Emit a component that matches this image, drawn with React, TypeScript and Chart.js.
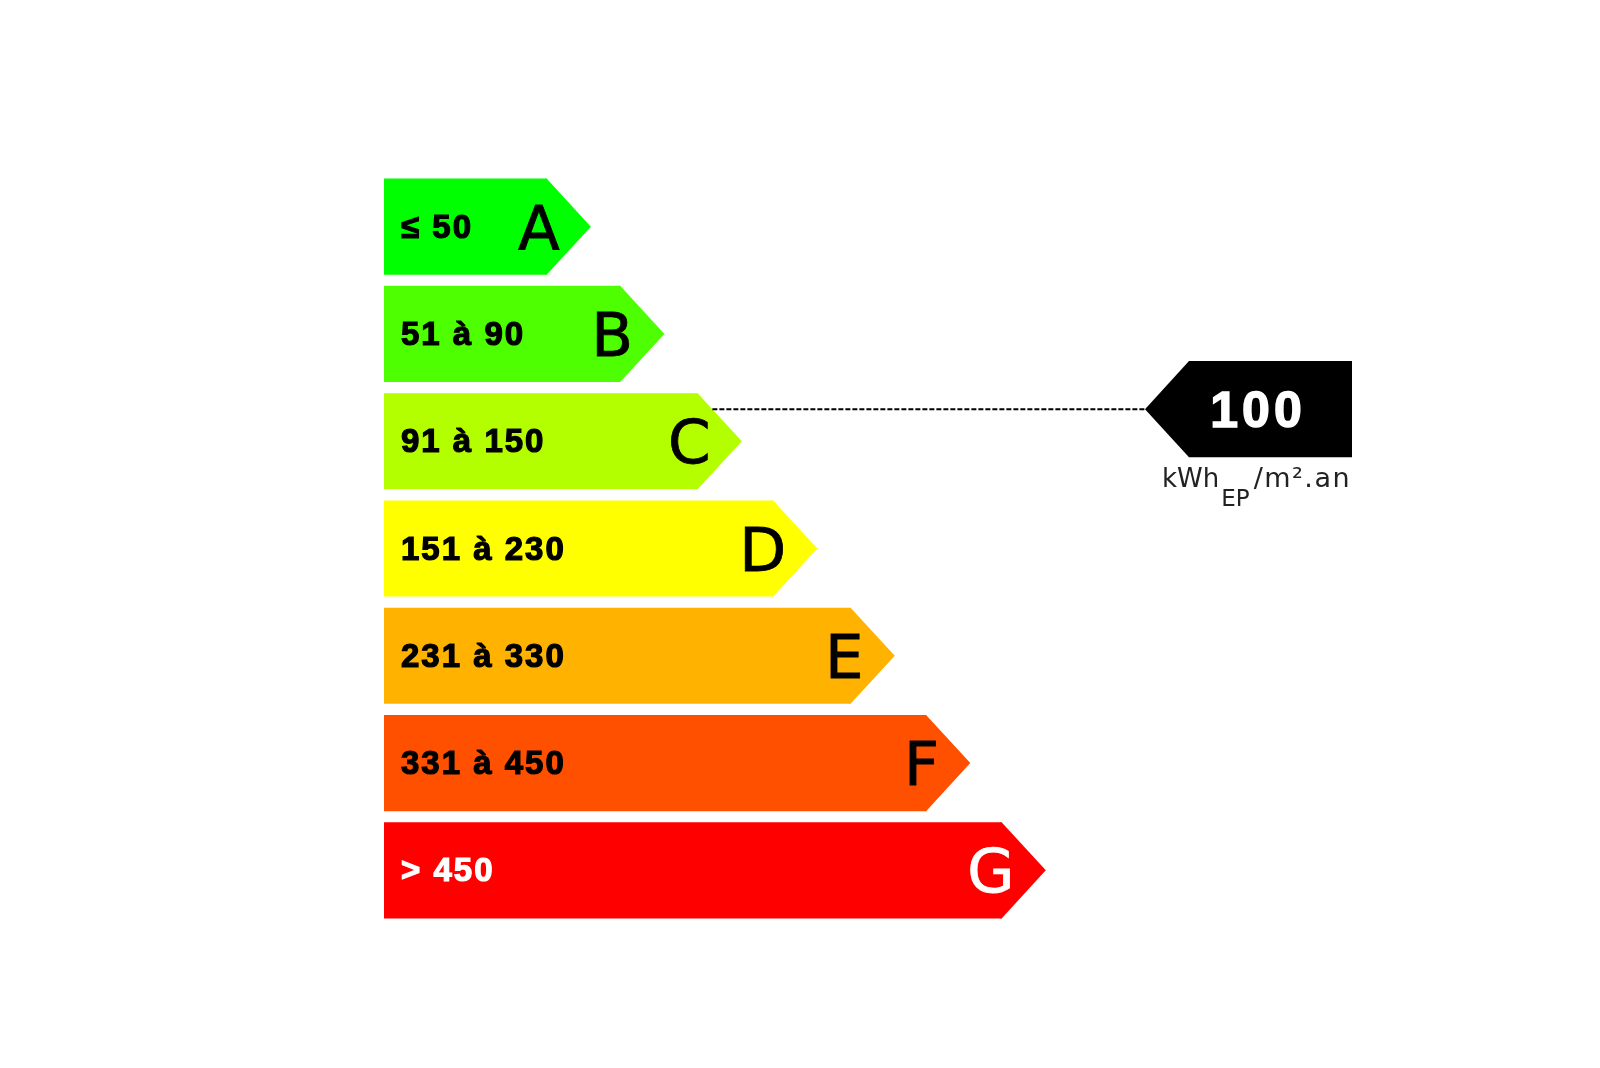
import React, { useEffect, useRef } from "react";
import { Chart, registerables } from "chart.js";

Chart.register(...registerables);

// ---- data ----
const classLetters = ["A", "B", "C", "D", "E", "F", "G"];
const rangeLabels = ["≤ 50", "51 à 90", "91 à 150", "151 à 230", "231 à 330", "331 à 450", "> 450"];
const rangeLow = [0, 50, 90, 150, 230, 330, 450];
const rangeHigh = [50, 90, 150, 230, 330, 450, 600];
// bar length, in % of the plotting width
const barLengths = [16.8, 24.4, 32.4, 40.2, 48.2, 56.0, 63.8];
const barColors = ["#00ff00", "#4dff00", "#b3ff00", "#ffff00", "#ffb300", "#ff5000", "#ff0000"];
const textColors = ["#000000", "#000000", "#000000", "#000000", "#000000", "#000000", "#ffffff"];
const consumption = 100;
const unitMain = "kWh";
const unitSub = "EP";
const unitTail = "/m².an";

const energyPlugin = {
  id: "energyLabel",
  afterDatasetsDraw(chart: any) {
    const ctx = chart.ctx as any;
    const area = chart.chartArea;
    const meta = chart.getDatasetMeta(0);
    const tipRatio = 0.46;
    let markerY = 0;
    let lineStartX = 0;
    meta.data.forEach((bar: any, i: number) => {
      const p = bar.getProps(["x", "y", "base", "height"], true);
      const h = p.height;
      const top = p.y - h / 2;
      const bottom = p.y + h / 2;
      const tip = h * tipRatio;
      ctx.save();
      ctx.fillStyle = barColors[i];
      ctx.beginPath();
      ctx.moveTo(p.x - 1, top);
      ctx.lineTo(p.x, top);
      ctx.lineTo(p.x + tip, p.y);
      ctx.lineTo(p.x, bottom);
      ctx.lineTo(p.x - 1, bottom);
      ctx.closePath();
      ctx.fill();

      // range label
      ctx.fillStyle = textColors[i];
      ctx.strokeStyle = textColors[i];
      ctx.lineWidth = 1.2;
      ctx.font = "bold 33px 'Liberation Sans', Arial, sans-serif";
      ctx.letterSpacing = "2px";
      ctx.textAlign = "left";
      ctx.textBaseline = "alphabetic";
      ctx.fillText(rangeLabels[i], p.base + 17, p.y + 11);
      ctx.strokeText(rangeLabels[i], p.base + 17, p.y + 11);
      ctx.letterSpacing = "0px";

      // class letter
      ctx.font = "61px 'DejaVu Sans', sans-serif";
      ctx.textAlign = "right";
      ctx.lineWidth = 0.8;
      ctx.fillText(classLetters[i], p.x + 13, p.y + 22);
      ctx.strokeText(classLetters[i], p.x + 13, p.y + 22);
      ctx.restore();

      if (consumption > rangeLow[i] && consumption <= rangeHigh[i]) {
        const frac = (consumption - rangeLow[i]) / (rangeHigh[i] - rangeLow[i]);
        markerY = top + frac * h;
        lineStartX = p.x + tip * ((markerY - top) / (h / 2));
      }
    });

    // marker
    const h = meta.data[0].getProps(["height"], true).height;
    const right = area.right;
    const rectLeft = right - 163;
    const tipX = rectLeft - 44;
    ctx.save();
    ctx.strokeStyle = "#000";
    ctx.lineWidth = 2;
    ctx.setLineDash([5, 2]);
    ctx.beginPath();
    ctx.moveTo(lineStartX, markerY);
    ctx.lineTo(tipX, markerY);
    ctx.stroke();
    ctx.setLineDash([]);

    ctx.fillStyle = "#000";
    ctx.beginPath();
    ctx.moveTo(tipX, markerY);
    ctx.lineTo(rectLeft, markerY - h / 2);
    ctx.lineTo(right, markerY - h / 2);
    ctx.lineTo(right, markerY + h / 2);
    ctx.lineTo(rectLeft, markerY + h / 2);
    ctx.closePath();
    ctx.fill();

    ctx.fillStyle = "#fff";
    ctx.strokeStyle = "#fff";
    ctx.lineWidth = 1.5;
    ctx.font = "bold 50px 'Liberation Sans', Arial, sans-serif";
    ctx.letterSpacing = "4px";
    ctx.textAlign = "center";
    ctx.textBaseline = "alphabetic";
    ctx.fillText(String(consumption), rectLeft + 69, markerY + 18);
    ctx.strokeText(String(consumption), rectLeft + 69, markerY + 18);
    ctx.letterSpacing = "0px";

    // unit
    ctx.beginPath();
    ctx.rect(tipX - 10, markerY + h / 2, right - tipX + 10, 80);
    ctx.clip();
    ctx.fillStyle = "#222";
    ctx.textAlign = "left";
    let ux = tipX + 17;
    const uy = markerY + 78;
    ctx.font = "26px 'DejaVu Sans', sans-serif";
    ctx.fillText(unitMain, ux, uy);
    ux += ctx.measureText(unitMain).width + 2;
    ctx.font = "23px 'DejaVu Sans', sans-serif";
    ctx.fillText(unitSub, ux, uy + 19);
    ux += ctx.measureText(unitSub).width + 4;
    ctx.font = "27px 'DejaVu Sans', sans-serif";
    ctx.letterSpacing = "1.5px";
    ctx.fillText(unitTail, ux, uy);
    ctx.letterSpacing = "0px";
    ctx.restore();
  },
};

export default function App() {
  const ref = useRef<HTMLCanvasElement>(null);
  useEffect(() => {
    if (!ref.current) return;
    const chart = new Chart(ref.current, {
      type: "bar",
      data: {
        labels: classLetters,
        datasets: [
          {
            data: barLengths,
            backgroundColor: barColors,
            borderWidth: 0,
            barPercentage: 0.896,
            categoryPercentage: 1,
          },
        ],
      },
      options: {
        indexAxis: "y",
        responsive: false,
        animation: false,
        devicePixelRatio: 1,
        events: [],
        layout: { padding: { left: 384, right: 248, top: 173, bottom: 144 } },
        plugins: { legend: { display: false }, tooltip: { enabled: false } },
        scales: {
          x: { type: "linear", min: 0, max: 100, display: false },
          y: { type: "category", display: false, offset: true },
        },
      },
      plugins: [energyPlugin],
    } as any);
    return () => chart.destroy();
  }, []);
  return (
    <div style={{ position: "absolute", left: 0, top: 0, width: 1600, height: 1068, background: "#fff" }}>
      <canvas ref={ref} width={1600} height={1068} style={{ display: "block" }} />
    </div>
  );
}
